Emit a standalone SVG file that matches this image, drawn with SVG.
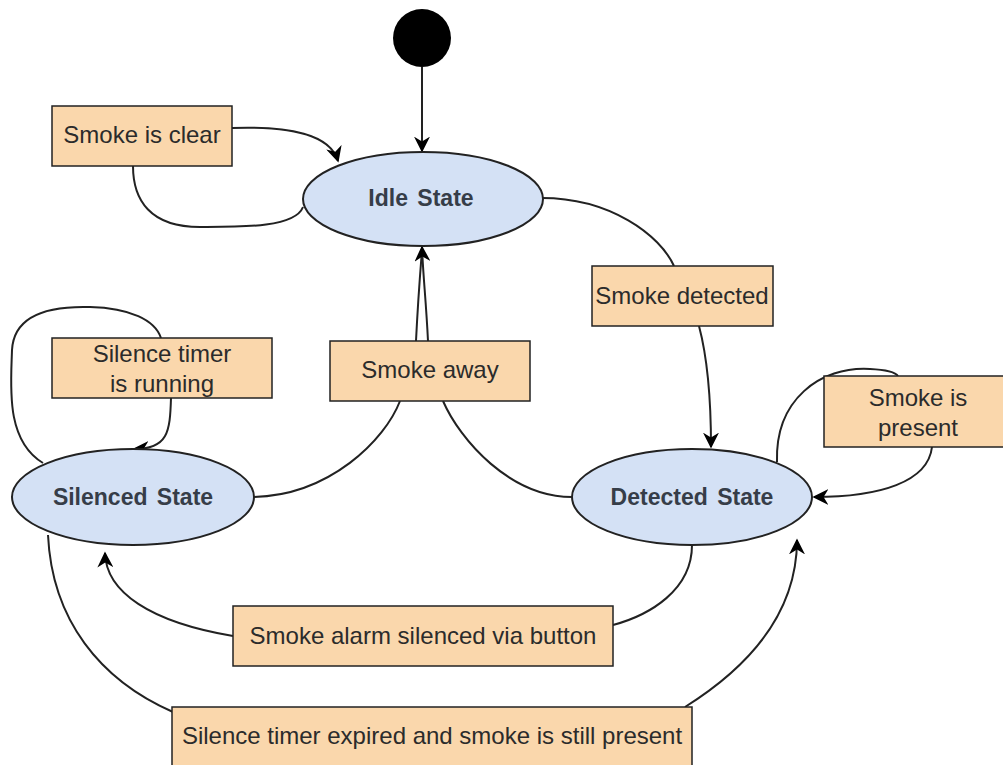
<svg xmlns="http://www.w3.org/2000/svg" width="1003" height="765" viewBox="0 0 1003 765">
<defs>
<style>
.state{fill:#d4e1f5;stroke:#222;stroke-width:2}
.lbl{fill:#fad7ac;stroke:#222;stroke-width:1.5}
.st{font-family:"Liberation Sans",Arial,sans-serif;font-size:23px;font-weight:bold;fill:#363d48;text-anchor:middle;dominant-baseline:central;word-spacing:3px}
.bt{font-family:"Liberation Sans",Arial,sans-serif;font-size:24px;fill:#2b2b2b;text-anchor:middle;dominant-baseline:central}
.edge{fill:none;stroke:#222;stroke-width:2}
</style>
<marker id="arrB" viewBox="0 0 10 10" refX="9" refY="5" markerWidth="16" markerHeight="16" markerUnits="userSpaceOnUse" orient="auto">
<path d="M0,0 L10,5 L0,10 L3,5 z" fill="#000"/>
</marker>
</defs>
<rect width="1003" height="765" fill="#fff"/>

<g id="connectors">
<path class="edge" marker-end="url(#arrB)" d="M422,67 L422,151"/>
<path class="edge" marker-end="url(#arrB)" d="M232,128 C290,126 330,134 338,161"/>
<path class="edge" d="M303,207 C295,228 240,227 200,227 C150,227 133,200 133,166"/>
<path class="edge" d="M542,198 C610,198 660,235 674,266"/>
<path class="edge" marker-end="url(#arrB)" d="M699,326 C708,360 711,400 711,447"/>
<path class="edge" d="M777,462 C775,400 820,366 870,369 C890,370 896,373 898,376"/>
<path class="edge" marker-end="url(#arrB)" d="M932,447 C928,482 880,497 814,497"/>
<path class="edge" d="M43,463 C5,440 11,385 12,350 C14,312 55,306 90,307 C130,308 155,320 161,338"/>
<path class="edge" marker-end="url(#arrB)" d="M171,398 C170,432 168,449 134,449"/>
<path class="edge" d="M254,497 C330,495 385,440 400,401"/>
<path class="edge" d="M443,401 C460,440 510,497 572,497"/>
<path class="edge" d="M416,341 C418,300 420,275 422,250"/>
<path class="edge" marker-end="url(#arrB)" d="M428,341 C426,300 423,275 422,247"/>
<path class="edge" d="M692,545 C692,590 650,615 613,625"/>
<path class="edge" marker-end="url(#arrB)" d="M233,636 C150,622 106,592 105,553"/>
<path class="edge" d="M48,535 C52,620 100,680 173,712"/>
<path class="edge" marker-end="url(#arrB)" d="M685,707 C760,660 797,605 797,540"/>
</g>

<g id="start"><circle cx="422" cy="38" r="29" fill="#000"/></g>

<g id="idle"><ellipse class="state" cx="423" cy="199" rx="120" ry="47"/><text class="st" x="421" y="198">Idle State</text></g>
<g id="detected"><ellipse class="state" cx="692" cy="497" rx="120" ry="48"/><text class="st" x="692" y="497">Detected State</text></g>
<g id="silenced"><ellipse class="state" cx="133" cy="497" rx="121" ry="48"/><text class="st" x="133" y="497">Silenced State</text></g>

<g id="lbl-clear"><rect class="lbl" x="52" y="106" width="180" height="60"/><text class="bt" x="142" y="134">Smoke is clear</text></g>
<g id="lbl-detected"><rect class="lbl" x="592" y="266" width="181" height="60"/><text class="bt" x="682" y="295">Smoke detected</text></g>
<g id="lbl-present"><rect class="lbl" x="824" y="376" width="190" height="71"/><text class="bt" x="918" y="397">Smoke is</text><text class="bt" x="918" y="427">present</text></g>
<g id="lbl-timer"><rect class="lbl" x="52" y="338" width="220" height="60"/><text class="bt" x="162" y="353">Silence timer</text><text class="bt" x="162" y="383">is running</text></g>
<g id="lbl-away"><rect class="lbl" x="330" y="341" width="200" height="60"/><text class="bt" x="430" y="369">Smoke away</text></g>
<g id="lbl-button"><rect class="lbl" x="233" y="606" width="380" height="60"/><text class="bt" x="423" y="635">Smoke alarm silenced via button</text></g>
<g id="lbl-expired"><rect class="lbl" x="172" y="707" width="520" height="75"/><text class="bt" x="432" y="735">Silence timer expired and smoke is still present</text></g>
</svg>
